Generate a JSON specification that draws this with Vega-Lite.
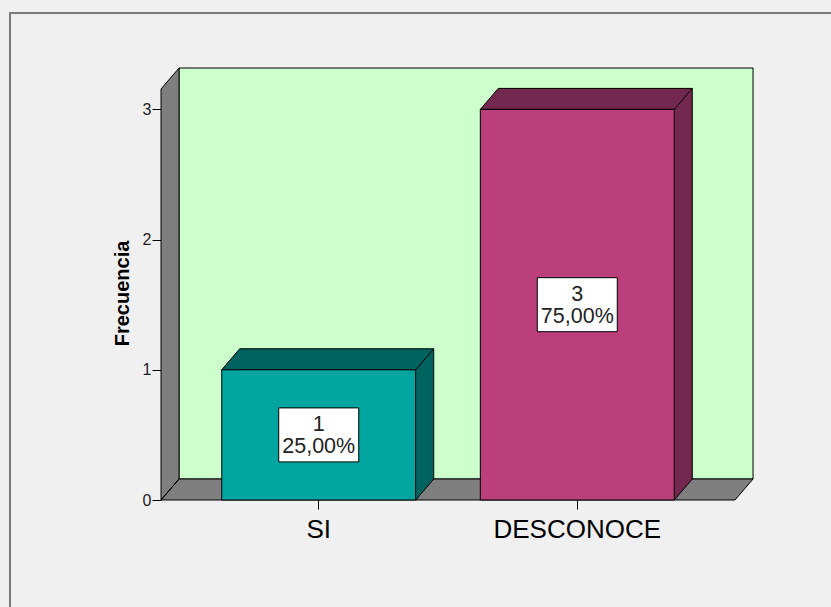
{
  "$schema": "https://vega.github.io/schema/vega-lite/v6.json",
  "width": 821,
  "height": 594,
  "autosize": {"type": "none"},
  "padding": {"left": 10, "top": 13, "right": 0, "bottom": 0},
  "background": "#f0f0f0",
  "config": {
    "font": "Liberation Sans",
    "view": {"stroke": "#7a7a7a", "strokeWidth": 2, "strokeDash": [821, 1415, 594], "fill": null},
    "axisY": {
      "offset": -151,
      "domain": false,
      "grid": false,
      "tickSize": 9,
      "tickColor": "#000000",
      "labelFontSize": 16,
      "labelColor": "#222222",
      "labelPadding": 1,
      "titleFontSize": 20,
      "titleFontWeight": "bold",
      "titleColor": "#000000",
      "titleAngle": 270,
      "titleX": -33,
      "titleY": 280,
      "titleBaseline": "alphabetic",
      "titleAlign": "center"
    }
  },
  "data": {
    "values": [
      {"cat": "SI", "n": 1, "pct": "25,00%"},
      {"cat": "DESCONOCE", "n": 3, "pct": "75,00%"}
    ]
  },
  "transform": [
    {"calculate": "datum.n / 2", "as": "mid"},
    {"calculate": "format(datum.n, 'd') + '\\n' + datum.pct", "as": "lbl"}
  ],
  "encoding": {
    "x": {
      "field": "cat",
      "type": "nominal",
      "sort": ["SI", "DESCONOCE"],
      "scale": {"range": [151, 725], "paddingInner": 0.25, "paddingOuter": 0.235},
      "axis": {
        "title": null,
        "orient": "bottom",
        "offset": -107,
        "domain": false,
        "grid": false,
        "tickSize": 9,
        "tickColor": "#000000",
        "labelFontSize": 26,
        "labelColor": "#000000",
        "labelPadding": 7,
        "labelAngle": 0
      }
    }
  },
  "layer": [
    {
      "transform": [{"filter": "datum.cat == 'SI'"}],
      "mark": {"type": "point", "shape": "M-1.397,-0.21L4.343,-0.21L4.343,-4.32L-1.397,-4.32Z", "size": 40000, "filled": true, "opacity": 1, "fill": "#ccffcc", "stroke": "#000000", "strokeWidth": 1},
      "encoding": {
        "y": {
          "datum": 0,
          "type": "quantitative",
          "scale": {"domain": [0, 3], "range": [487, 96.4], "nice": false},
          "axis": {"title": "Frecuencia", "values": [0, 1, 2, 3], "format": "d", "labelFontSize": 16}
        }
      }
    },
    {
      "transform": [{"filter": "datum.cat == 'SI'"}],
      "mark": {"type": "point", "shape": "M-1.577,0L-1.577,-4.11L-1.397,-4.32L-1.397,-0.21ZM-1.577,0L-1.397,-0.21L4.343,-0.21L4.163,0Z", "size": 40000, "filled": true, "opacity": 1, "fill": "#7f7f7f", "stroke": "#000000", "strokeWidth": 1},
      "encoding": {
        "y": {"datum": 0, "type": "quantitative", "axis": {"title": "Frecuencia", "values": [0, 1, 2, 3], "format": "d", "labelFontSize": 16}}
      }
    },
    {
      "mark": {"type": "bar", "xOffset": 18, "x2Offset": 18, "yOffset": -21, "y2Offset": -21, "strokeWidth": 0},
      "encoding": {
        "y": {"field": "n", "type": "quantitative", "axis": {"title": "Frecuencia", "values": [0, 1, 2, 3], "format": "d", "labelFontSize": 16}},
        "fill": {"condition": {"test": "datum.cat == 'SI'", "value": "#006360"}, "value": "#73284f"}
      }
    },
    {
      "mark": {"type": "point", "shape": "M0.97,0L1.15,-0.21L0.97,-0.21Z", "size": 40000, "filled": true, "opacity": 1, "strokeWidth": 0},
      "encoding": {
        "y": {"datum": 0, "type": "quantitative", "axis": {"title": "Frecuencia", "values": [0, 1, 2, 3], "format": "d", "labelFontSize": 16}},
        "fill": {"condition": {"test": "datum.cat == 'SI'", "value": "#006360"}, "value": "#73284f"}
      }
    },
    {
      "mark": {"type": "rule", "xOffset": 115, "yOffset": -21, "y2Offset": -21, "color": "#000000", "strokeWidth": 1},
      "encoding": {
        "y": {"field": "n", "type": "quantitative", "axis": {"title": "Frecuencia", "values": [0, 1, 2, 3], "format": "d", "labelFontSize": 16}},
        "y2": {"datum": 0}
      }
    },
    {
      "mark": {"type": "point", "shape": "M0.97,0L1.15,-0.21", "size": 40000, "filled": false, "opacity": 1, "fill": null, "stroke": "#000000", "strokeWidth": 1},
      "encoding": {
        "y": {"datum": 0, "type": "quantitative", "axis": {"title": "Frecuencia", "values": [0, 1, 2, 3], "format": "d", "labelFontSize": 16}}
      }
    },
    {
      "mark": {"type": "point", "shape": "M-0.97,0L-0.79,-0.21L1.15,-0.21L0.97,0Z", "size": 40000, "filled": true, "opacity": 1, "stroke": "#000000", "strokeWidth": 1},
      "encoding": {
        "y": {"field": "n", "type": "quantitative", "axis": {"title": "Frecuencia", "values": [0, 1, 2, 3], "format": "d", "labelFontSize": 16}},
        "fill": {"condition": {"test": "datum.cat == 'SI'", "value": "#006360"}, "value": "#73284f"}
      }
    },
    {
      "mark": {"type": "bar", "stroke": "#000000", "strokeWidth": 1},
      "encoding": {
        "y": {"field": "n", "type": "quantitative", "axis": {"title": "Frecuencia", "values": [0, 1, 2, 3], "format": "d", "labelFontSize": 16}},
        "fill": {"condition": {"test": "datum.cat == 'SI'", "value": "#00a59f"}, "value": "#bb3f7b"}
      }
    },
    {
      "mark": {"type": "point", "shape": "M-0.4,-0.27L0.4,-0.27L0.4,0.27L-0.4,0.27Z", "size": 40000, "filled": true, "opacity": 1, "fill": "#ffffff", "stroke": "#000000", "strokeWidth": 1},
      "encoding": {
        "y": {"field": "mid", "type": "quantitative", "axis": {"title": "Frecuencia", "values": [0, 1, 2, 3], "format": "d", "labelFontSize": 16}}
      }
    },
    {
      "mark": {"type": "text", "fontSize": 21.5, "lineHeight": 22, "lineBreak": "\n", "baseline": "middle", "align": "center", "dy": -9.5, "color": "#222222"},
      "encoding": {
        "y": {"field": "mid", "type": "quantitative", "axis": {"title": "Frecuencia", "values": [0, 1, 2, 3], "format": "d", "labelFontSize": 16}},
        "text": {"field": "lbl", "type": "nominal"}
      }
    }
  ]
}
